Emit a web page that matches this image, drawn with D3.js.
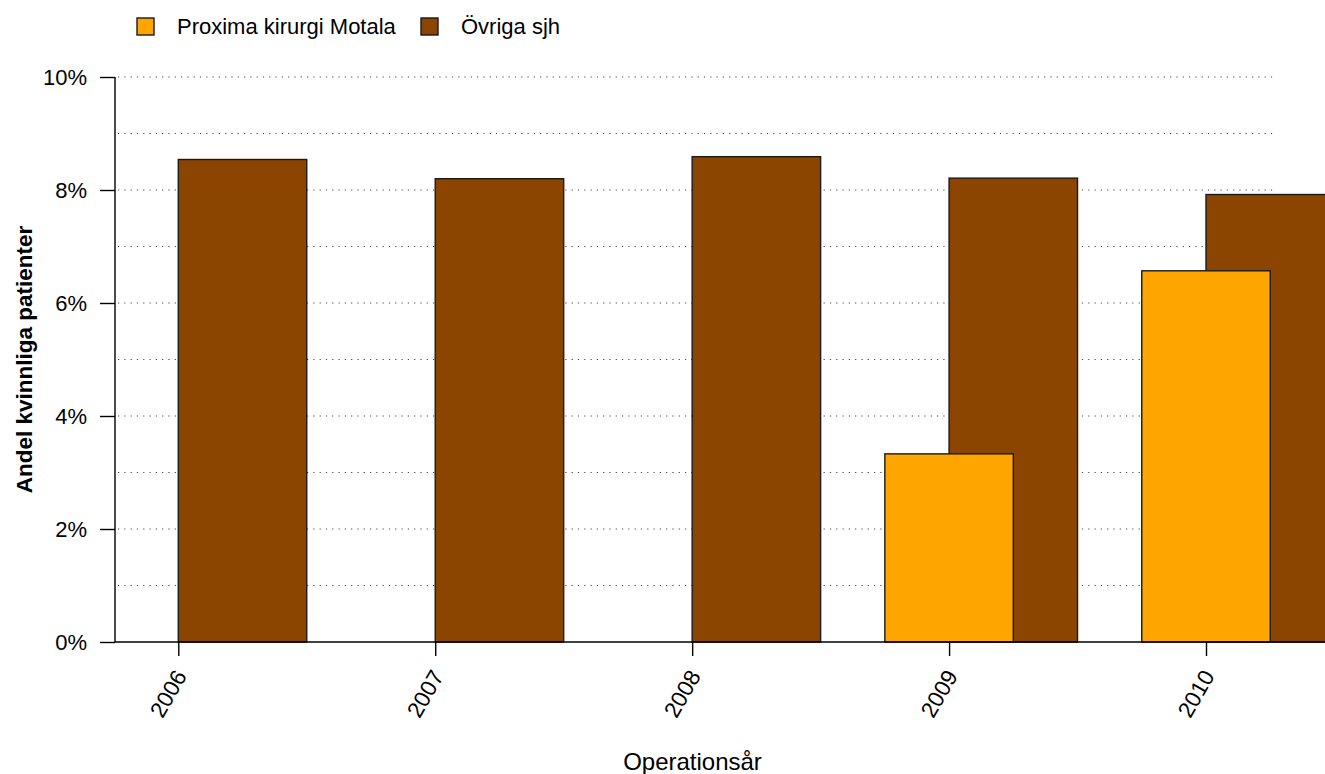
<!DOCTYPE html>
<html>
<head>
<meta charset="utf-8">
<script src="https://cdn.jsdelivr.net/npm/d3@7"></script>
<style>
  html, body { margin: 0; padding: 0; background: #fff; }
  svg { display: block; }
  text { font-family: "Liberation Sans", Arial, sans-serif; fill: #000; }
</style>
</head>
<body>
<svg id="chart" width="1325" height="774"></svg>
<script>
const years = ["2006", "2007", "2008", "2009", "2010"];
const proxima = [null, null, null, 3.33, 6.57];
const ovriga = [8.54, 8.20, 8.59, 8.21, 7.92];
const seriesNames = ["Proxima kirurgi Motala", "Övriga sjh"];
const seriesColors = ["#FFA500", "#8B4500"];
const yTicks = [0, 2, 4, 6, 8, 10];
const gridValues = [1, 2, 3, 4, 5, 6, 7, 8, 9, 10];
const xTitle = "Operationsår";
const yTitle = "Andel kvinnliga patienter";

const svg = d3.select("#chart");
const W = 1325, H = 774;
const plotLeft = 115, plotRight = 1280, plotTop = 77, plotBottom = 642;

const x = d3.scalePoint().domain(years).range([178.3, 1206]);
const step = x.step();
const bw = step / 2;
const y = d3.scaleLinear().domain([0, 10]).range([plotBottom, plotTop]);

// gridlines
svg.append("g").selectAll("line").data(gridValues).join("line")
  .attr("x1", plotLeft + 3).attr("x2", 1273)
  .attr("y1", d => y(d)).attr("y2", d => y(d))
  .attr("stroke", "#444").attr("stroke-width", 1)
  .attr("stroke-dasharray", "1.2,5.1");

// Övriga bars (behind)
svg.append("g").selectAll("rect").data(years.map((yr, i) => ({yr, v: ovriga[i]})).filter(d => d.v != null))
  .join("rect")
  .attr("x", d => x(d.yr))
  .attr("y", d => y(d.v))
  .attr("width", bw)
  .attr("height", d => y(0) - y(d.v))
  .attr("fill", seriesColors[1])
  .attr("stroke", "#1a1a1a").attr("stroke-width", 1.4);

// Proxima bars (front)
svg.append("g").selectAll("rect").data(years.map((yr, i) => ({yr, v: proxima[i]})).filter(d => d.v != null))
  .join("rect")
  .attr("x", d => x(d.yr) - bw / 2)
  .attr("y", d => y(d.v))
  .attr("width", bw)
  .attr("height", d => y(0) - y(d.v))
  .attr("fill", seriesColors[0])
  .attr("stroke", "#1a1a1a").attr("stroke-width", 1.4);

// y axis
const yAxis = d3.axisLeft(y).tickValues(yTicks).tickFormat(d => d + "%").tickSize(15).tickPadding(13);
const gy = svg.append("g").attr("transform", `translate(${plotLeft},0)`).call(yAxis);
gy.select(".domain").attr("d", `M0,${plotBottom}V${plotTop}`).attr("stroke", "#000").attr("stroke-width", 1.4);
gy.selectAll(".tick line").attr("stroke", "#000").attr("stroke-width", 1.4);
gy.selectAll(".tick text").attr("font-size", 22).attr("font-family", "Liberation Sans, Arial, sans-serif").attr("fill", "#000");

// x axis
const xAxis = d3.axisBottom(x).tickSize(14).tickPadding(0);
const gx = svg.append("g").attr("transform", `translate(0,${plotBottom})`).call(xAxis);
gx.select(".domain").attr("d", `M${plotLeft},0H${W}`).attr("stroke", "#000").attr("stroke-width", 1.4);
gx.selectAll(".tick line").attr("stroke", "#000").attr("stroke-width", 1.4);
gx.selectAll(".tick text")
  .attr("font-size", 22.5).attr("font-family", "Liberation Sans, Arial, sans-serif").attr("fill", "#000")
  .attr("text-anchor", "end")
  .attr("dy", "0.35em")
  .attr("transform", "translate(2,30) rotate(-60)")
  .attr("y", 0).attr("x", 0);

// axis titles
svg.append("text").attr("x", (plotLeft + plotRight) / 2 - 5).attr("y", 770)
  .attr("text-anchor", "middle").attr("font-size", 24).text(xTitle);
svg.append("text")
  .attr("transform", `translate(32,${(plotTop + plotBottom) / 2}) rotate(-90)`)
  .attr("text-anchor", "middle").attr("font-size", 22.5).attr("font-weight", "bold").text(yTitle);

// legend
const legendX = [137, 421];
const lg = svg.append("g");
seriesNames.forEach((name, i) => {
  lg.append("rect").attr("x", legendX[i]).attr("y", 18).attr("width", 17).attr("height", 17)
    .attr("fill", seriesColors[i]).attr("stroke", "#1a1a1a").attr("stroke-width", 1.4);
  lg.append("text").attr("x", legendX[i] + 40).attr("y", 34).attr("font-size", 22).text(name);
});
</script>
</body>
</html>
